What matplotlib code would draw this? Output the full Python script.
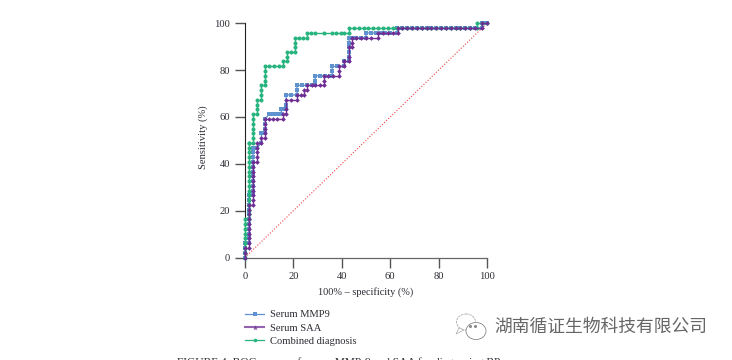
import matplotlib
matplotlib.use("Agg")
import matplotlib.pyplot as plt
from matplotlib.lines import Line2D
from matplotlib.patches import Ellipse, Polygon

plt.rcParams['font.family'] = ['Liberation Serif', 'DejaVu Sans']

ticks = [0, 20, 40, 60, 80, 100]
diag = [0, 100]

# ROC points
mmp9_x = [0, 0, 0, 0, 1.6, 1.6, 1.6, 1.6, 1.6, 1.6, 1.6, 1.6, 1.6, 1.6, 1.6,
          3.3, 3.3, 3.3, 3.3, 3.3, 3.3, 3.3, 3.3, 3.3, 3.3, 3.3,
          5, 6.8, 6.8, 8.4, 8.4, 8.4, 8.4, 9.8, 11.5, 13.2, 15, 15, 15.5, 17, 17, 17, 19, 21.5, 21.5, 21.5,
          23.5, 25.5, 27.5, 29, 29, 29, 31, 33, 35, 36, 36, 36, 38, 41, 41, 43, 43, 43, 43, 43, 43,
          44.5, 46, 48, 50, 50, 52, 54, 56, 58, 60, 63, 63,
          65, 67, 69, 71, 73, 75, 77, 79, 81, 83, 85, 87, 89, 91, 93, 95, 97.8, 97.8, 99, 100]
mmp9_y = [0, 2, 4, 6, 6, 8.2, 10.2, 12.2, 14.3, 16.3, 18.4, 20.4, 22.4, 24.5, 26.5,
          26.5, 28.6, 30.6, 32.7, 34.7, 36.7, 38.8, 40.8, 42.9, 44.9, 46.9,
          46.9, 49, 53, 53, 55, 57, 59, 61.2, 61.2, 61.2, 61.2, 63.3, 63.3, 63.3, 65.3, 69.4, 69.4, 69.4, 71.4, 73.5,
          73.5, 73.5, 73.5, 73.5, 75.5, 77.6, 77.6, 77.6, 77.6, 77.6, 79.6, 81.6, 81.6, 81.6, 83.7, 83.7, 85.7, 87.8, 89.8, 91.8, 93.9,
          93.9, 93.9, 93.9, 93.9, 95.9, 95.9, 95.9, 95.9, 95.9, 95.9, 95.9, 98,
          98, 98, 98, 98, 98, 98, 98, 98, 98, 98, 98, 98, 98, 98, 98, 98, 98, 100, 100, 100]

saa_x = [0, 0, 0, 1.6, 1.6, 1.6, 1.6, 1.6, 1.6, 1.6, 1.6, 1.6, 1.6,
         3.3, 3.3, 3.3, 3.3, 3.3, 3.3, 3.3, 3.3, 3.3, 3.3,
         5, 5, 5, 5, 5, 6.6, 6.6, 8.4, 8.4, 8.4, 8.4, 8.4, 10, 11.7, 13.4, 15.8, 15.8, 17, 17, 17, 19, 21.5, 21.5, 23, 24.5, 24.5, 25.8, 25.8,
         27.5, 29, 31, 32.8, 32.8, 32.8, 34.5, 36.5, 39, 39, 39, 41, 41, 41, 43, 43, 43, 44.4, 44.4, 44.4,
         46, 48, 50, 52, 55, 55, 57, 59, 61, 63.4, 63.4,
         65, 67, 69, 71, 73, 75, 77, 79, 81, 83, 85, 87, 89, 91, 93, 95, 98, 98, 100]
saa_y = [0, 2, 4, 4, 6, 8.2, 10.2, 12.2, 14.3, 16.3, 18.4, 20.4, 22.4,
         22.4, 24.5, 26.5, 28.6, 30.6, 32.7, 34.7, 36.7, 38.8, 40.8,
         40.8, 42.9, 44.9, 46.9, 49, 49, 51, 51, 53, 55, 57, 59.2, 59.2, 59.2, 59.2, 59.2, 61.2, 61.2, 63.3, 67.3, 67.3, 67.3, 69.4, 69.4, 69.4, 71.4, 71.4, 73.5,
         73.5, 73.5, 73.5, 73.5, 75.5, 77.6, 77.6, 77.6, 77.6, 79.6, 81.6, 81.6, 83.7, 83.7, 83.7, 85.7, 89.8, 89.8, 91.8, 93.9,
         93.9, 93.9, 93.9, 93.9, 93.9, 95.9, 95.9, 95.9, 95.9, 95.9, 98,
         98, 98, 98, 98, 98, 98, 98, 98, 98, 98, 98, 98, 98, 98, 98, 98, 98, 100, 100]

combined_x = [0, 0, 0, 0, 0, 0, 0, 0, 0,
              1.6, 1.6, 1.6, 1.6, 1.6, 1.6, 1.6, 1.6, 1.6, 1.6, 1.6, 1.6, 1.6, 1.6, 1.6, 1.6, 1.6, 1.6,
              3.3, 3.3, 3.3, 3.3, 3.3, 3.3, 3.3, 5, 5, 5, 5, 6.6, 6.6, 6.6, 6.6,
              8.3, 8.3, 8.3, 8.3, 8.3, 10, 12, 14, 15.6, 15.6, 17.3, 17.3, 17.3, 19, 20.6, 20.6, 20.6, 20.6,
              22.3, 24, 25.6, 25.6, 27.3, 29, 32.5, 36, 37.5, 39.5, 41, 43, 43,
              45, 47, 49, 51, 53, 55, 57, 59, 61, 63, 65, 67, 69, 71, 73, 75, 77, 79, 81, 83, 85, 87, 89, 91, 93, 96, 96, 98, 100]
combined_y = [0, 2, 4, 6, 8.2, 10.2, 12.2, 14.3, 16.3,
              16.3, 18.4, 20.4, 22.4, 24.5, 26.5, 28.6, 30.6, 32.7, 34.7, 36.7, 38.8, 40.8, 42.9, 44.9, 46.9, 49, 49,
              49, 51, 53, 55, 57, 59.2, 61.2, 61.2, 63.3, 65.3, 67.3, 67.3, 69.4, 71.4, 73.5,
              73.5, 75.5, 77.6, 79.6, 81.6, 81.6, 81.6, 81.6, 81.6, 83.7, 83.7, 85.7, 87.8, 87.8, 87.8, 89.8, 91.8, 93.9,
              93.9, 93.9, 93.9, 95.9, 95.9, 95.9, 95.9, 95.9, 95.9, 95.9, 95.9, 95.9, 98,
              98, 98, 98, 98, 98,
              98, 98, 98, 98, 98,
              98, 98, 98, 98, 98,
              98, 98, 98, 98, 98,
              98, 98, 98, 98, 98,
              98, 100, 100, 100]

BLUE = "#5f92cf"
PURPLE = "#6f2e93"
GREEN = "#27b47f"
RED = "#ef4048"
TXT = "#2b2b33"

fig = plt.figure(figsize=(7.32, 3.6), dpi=100)
W, H = 732., 360.
ax = fig.add_axes([245.0/W, 1-257.5/H, 242/W, 234.2/H])

ax.plot(diag, diag, ls=(0, (1, 1.6)), lw=0.8, color=RED, zorder=1, clip_on=False)
ax.plot(mmp9_x, mmp9_y, color=BLUE, lw=1, marker='s', ms=2.9, mew=0, zorder=2, clip_on=False)
ax.plot(combined_x, combined_y, color=GREEN, lw=1, marker='o', ms=2.9, mew=0, zorder=3, clip_on=False)
ax.plot(saa_x, saa_y, color=PURPLE, lw=1, marker='D', ms=2.4, mew=0, zorder=4, clip_on=False)

ax.set_xlim(0, 100)
ax.set_ylim(0, 100)
ax.set_xticks(ticks)
ax.set_yticks(ticks)
for s in ['top', 'right']:
    ax.spines[s].set_visible(False)
ax.spines['left'].set_color('#222222')
ax.spines['left'].set_linewidth(0.8)
ax.spines['bottom'].set_color('#666666')
ax.spines['bottom'].set_linewidth(0.9)
ax.tick_params(length=7.2, width=1.0, color='#555555', labelsize=7.6, labelcolor=TXT, pad=3.5)

# overlay in picture pixels for legend, caption and watermark
over = fig.add_axes([0, 0, 1, 1], facecolor='none')
over.set_xlim(0, W)
over.set_ylim(H, 0)
over.set_axis_off()

over.text(366, 292, "100% \u2013 specificity (%)", ha='center', va='center', fontsize=7.4, color=TXT)
over.text(203, 137, "Sensitivity (%)", ha='center', va='center', rotation=90, fontsize=7.6, color=TXT)

handles = [
    Line2D([], [], color=BLUE, lw=0.9, marker='s', ms=2.4, mew=0),
    Line2D([], [], color=PURPLE, alpha=0.75, lw=1.5, marker='^', ms=3, mew=0),
    Line2D([], [], color=GREEN, lw=0.9, marker='o', ms=2.6, mew=0),
]
over.legend(handles, ["Serum MMP9", "Serum SAA", "Combined diagnosis"],
            loc='upper left', bbox_to_anchor=(245, 310), bbox_transform=over.transData,
            frameon=False, fontsize=7.6, labelcolor=TXT, borderpad=0, borderaxespad=0,
            handlelength=1.8, handletextpad=0.55, labelspacing=0.36, numpoints=1)

over.text(177, 357, "FIGURE 4: ROC curves of serum MMP-9 and SAA for diagnosing BP.",
          ha='left', va='top', fontsize=8.2, color=TXT)

# watermark
over.add_patch(Ellipse((466, 322), 19, 16, fc='white', ec='#aaaaaa', lw=0.6, ls=(0, (3, 1)), zorder=5))
over.add_patch(Polygon([[459, 328], [456, 334], [464, 330]], fc='white', ec='#aaaaaa', lw=0.5, zorder=5))
over.add_patch(Ellipse((476, 331), 20, 17, fc='white', ec='#888888', lw=0.6, zorder=6))
over.plot([470, 475], [326, 326], ls='none', marker='o', ms=1.2, color='#888888', zorder=7)
over.text(601, 327, "湖南循证生物科技有限公司", ha='center', va='center', fontsize=12.8,
          color='#666666', family=['Noto Sans CJK SC', 'DejaVu Sans'])

fig.savefig("out.png", dpi=100)
